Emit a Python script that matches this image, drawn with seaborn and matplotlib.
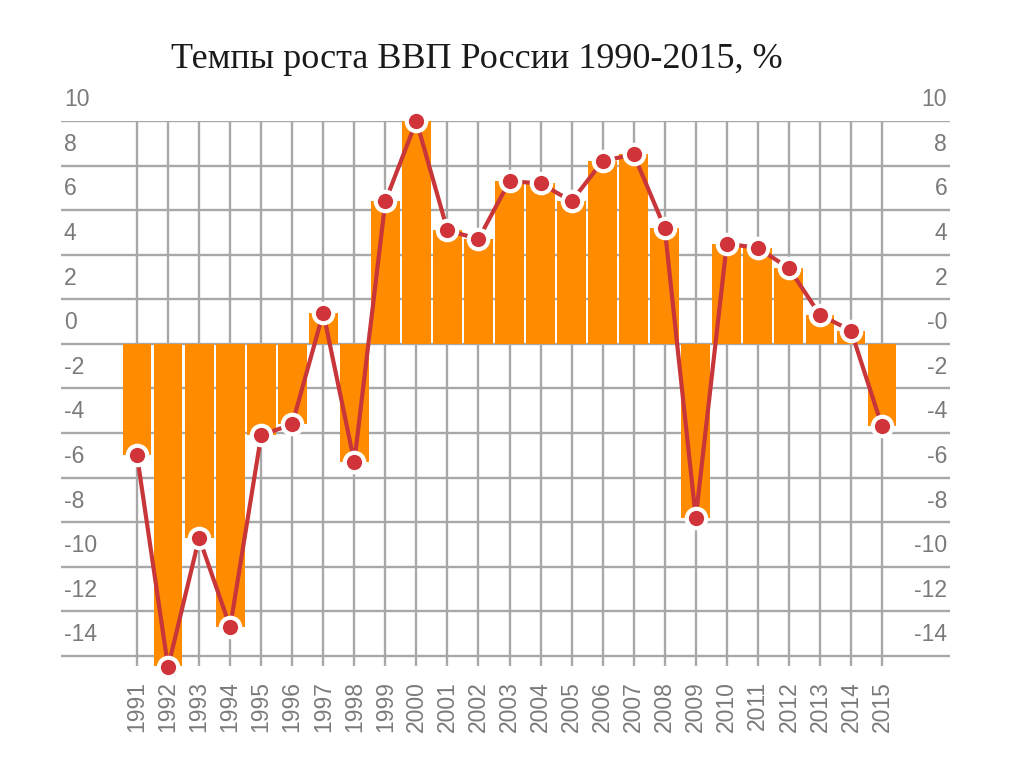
import numpy as np
import pandas as pd
import matplotlib
matplotlib.use('Agg')
import matplotlib.pyplot as plt
import seaborn as sns
from matplotlib.transforms import ScaledTranslation

# ---- data ----
years = [str(y) for y in range(1991, 2016)]
gdp = [-5.0, -14.5, -8.7, -12.7, -4.1, -3.6, 1.4, -5.3, 6.4, 10.0,
       5.1, 4.7, 7.3, 7.2, 6.4, 8.2, 8.5, 5.2, -7.8, 4.5,
       4.3, 3.4, 1.3, 0.6, -3.7]
y_ticks = list(range(-14, 11, 2))
left_labels = [str(v) for v in y_ticks]
right_labels = ['-0' if v == 0 else str(v) for v in y_ticks]
title = 'Темпы роста ВВП России 1990-2015, %'

ORANGE = '#FF8C00'
RED = '#C8363A'
GRID = '#A8A8A8'
TXT = '#7A7A7A'

sns.set_theme(style='white')
plt.rcParams['font.family'] = ['Liberation Sans', 'DejaVu Sans']

fig = plt.figure(figsize=(10.24, 7.68), dpi=100)
L, R, T, B = 61, 950, 121, 666
ax = fig.add_axes([L / 1024, 1 - B / 768, (R - L) / 1024, (B - T) / 768])

df = pd.DataFrame({'year': years, 'gdp': gdp})
sns.barplot(data=df, x='year', y='gdp', color=ORANGE, saturation=1,
            width=0.93, ax=ax, zorder=2, linewidth=0)
sns.pointplot(data=df, x='year', y='gdp', ax=ax, color=RED,
              linewidth=3, markersize=14, markerfacecolor='#D0343A',
              markeredgecolor='white', markeredgewidth=3,
              zorder=4, clip_on=False)

ax.set_xlim(-2.449, 26.19)
ax.set_ylim(-14.45, 10)
ax.set_axisbelow(True)
for s in ax.spines.values():
    s.set_visible(False)

ax.set_xticks(range(len(years)))
ax.set_xticklabels(years, rotation=90, fontsize=16.5, color=TXT)
ax.set_yticks(y_ticks)
ax.set_yticklabels(left_labels, fontsize=16.5, color=TXT)
ax.tick_params(axis='x', length=0, pad=11)
ax.tick_params(axis='y', length=0, pad=-2)
ax.grid(True, color=GRID, linewidth=1.7)
ax.set_xlabel('')
ax.set_ylabel('')

off = ScaledTranslation(0, 7 / 72, fig.dpi_scale_trans)
for lbl in ax.get_yticklabels():
    lbl.set_horizontalalignment('left')
    lbl.set_verticalalignment('bottom')
    lbl.set_transform(lbl.get_transform() + off)

ax2 = ax.twinx()
ax2.set_ylim(ax.get_ylim())
ax2.set_yticks(y_ticks)
ax2.set_yticklabels(right_labels, fontsize=16.5, color=TXT)
ax2.tick_params(axis='y', length=0, pad=-2)
ax2.grid(False)
for s in ax2.spines.values():
    s.set_visible(False)
for lbl in ax2.get_yticklabels():
    lbl.set_horizontalalignment('right')
    lbl.set_verticalalignment('bottom')
    lbl.set_transform(lbl.get_transform() + off)

fig.text(477 / 1024, 1 - 60 / 768, title, ha='center', va='center',
         fontsize=26, color='#1A1A1A',
         family=['Liberation Serif', 'DejaVu Serif'])

fig.savefig('out.png', dpi=100, facecolor='white')
